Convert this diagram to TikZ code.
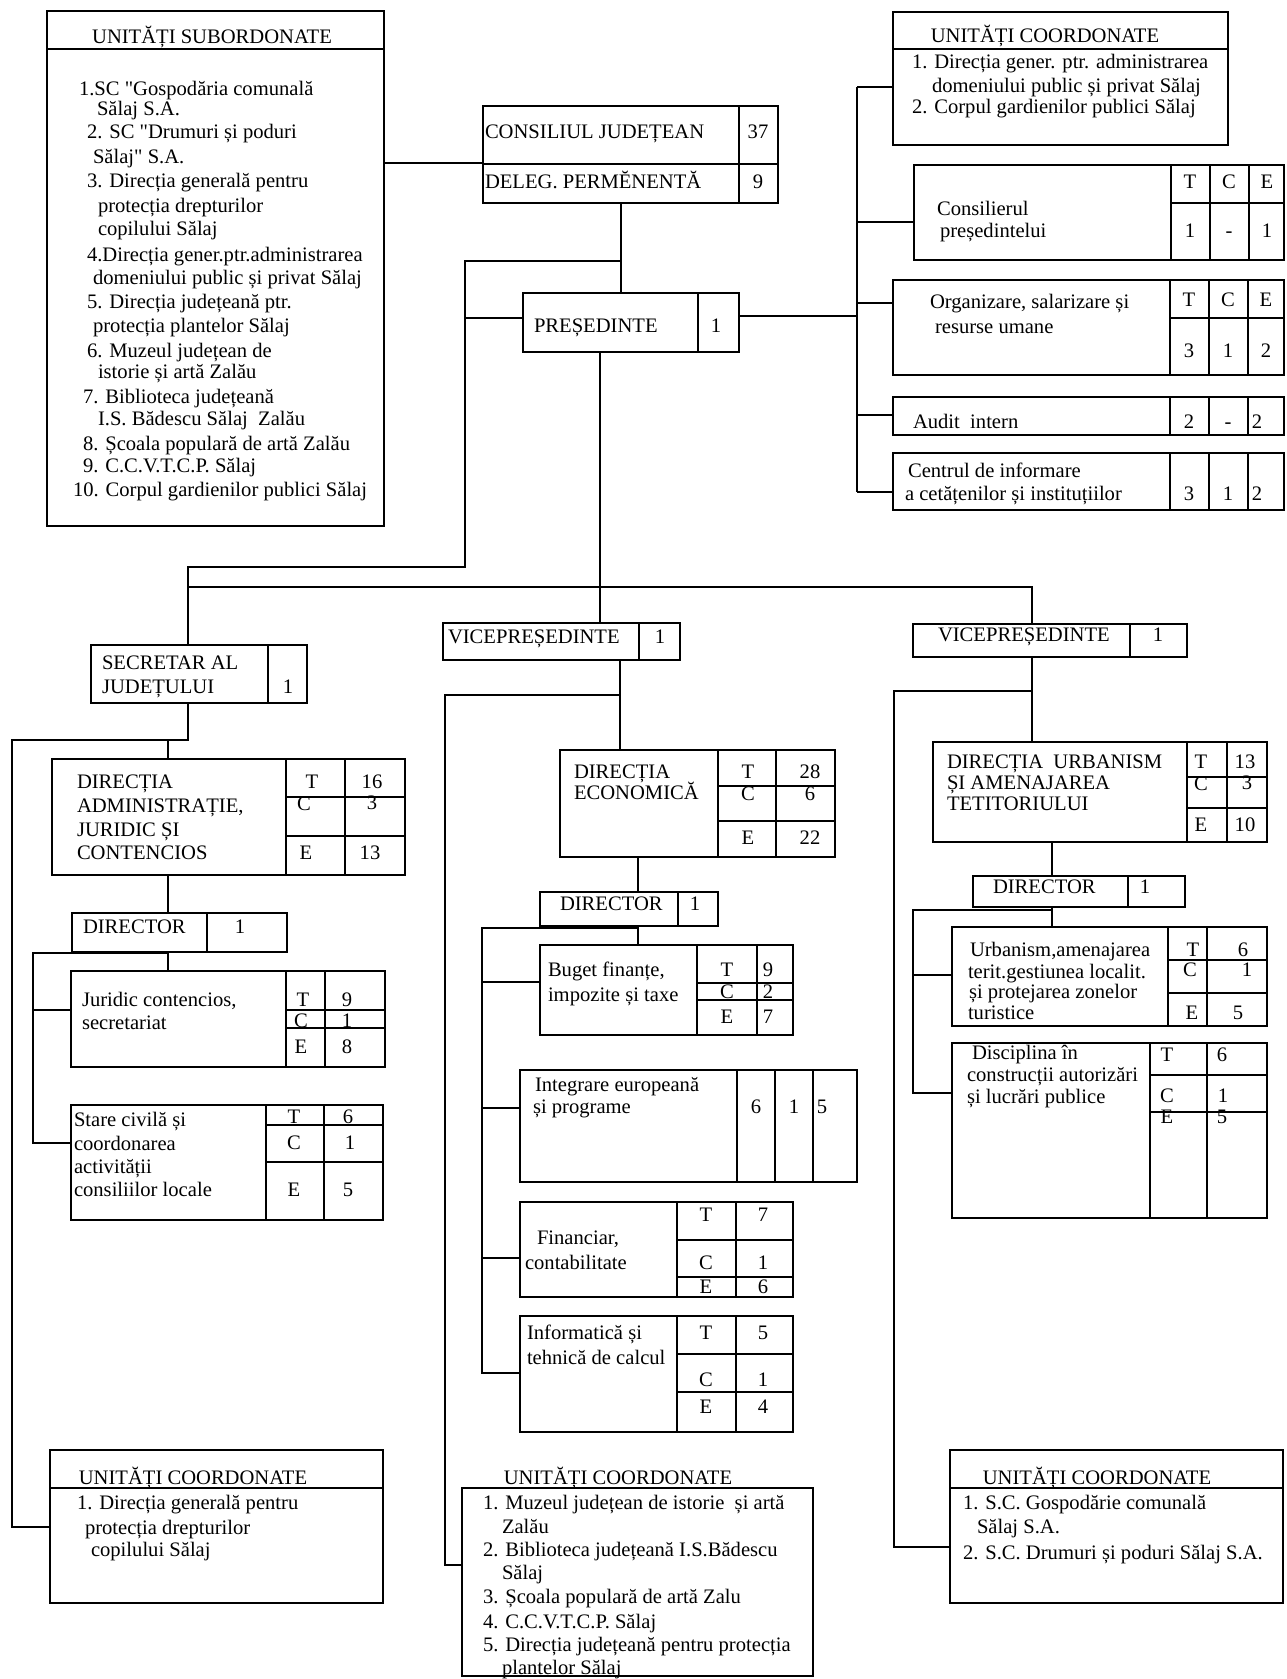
\documentclass[tikz,border=0pt]{standalone}
\usepackage{fontspec}
\setmainfont{Liberation Serif}[Ligatures=TeXOff]
\usetikzlibrary{fit}
\newcounter{tn}
\tikzset{
  ln/.style={line width=1pt},
  box/.style={draw, line width=1pt, inner sep=0pt, outer sep=0pt, rectangle},
  tx/.style={inner sep=0pt, outer sep=0pt, font=\fontsize{10.3}{12}\selectfont},
}
\newcommand{\bx}[5]{\path (#2,#3) coordinate (#1-nw) (#4,#5) coordinate (#1-se); \node[box, fit=(#1-nw)(#1-se)] (#1) {};}
\newcommand{\vdiv}[2]{\draw[ln] (#1.north -| #2,0) -- (#1.south -| #2,0);}
\newcommand{\hdiv}[3]{\draw[ln] (#2,#3) -- (#1.east |- #2,#3);}
\newcommand{\tl}[3]{\stepcounter{tn}\node[tx, anchor=base west] (t\arabic{tn}) at (#1,{#2+6}) {#3};}
\newcommand{\tc}[3]{\stepcounter{tn}\node[tx, anchor=base] (t\arabic{tn}) at (#1,{#2+6}) {#3};}
\begin{document}
\begin{tikzpicture}[x=0.5pt,y=-0.5pt]
\useasboundingbox (0,0) rectangle (1286,1679);
\fill[white] (0,0) rectangle (1286,1679);
% ---------- boxes ----------
\bx{sub}{47}{11}{384}{526} \hdiv{sub}{47}{49}
\bx{cj}{483}{106}{778}{203} \hdiv{cj}{483}{164} \vdiv{cj}{739}
\bx{pres}{523}{293}{739}{352} \vdiv{pres}{698}
\bx{ucr}{893}{12}{1228}{145} \hdiv{ucr}{893}{49}
\bx{cons}{914}{165}{1284}{260} \vdiv{cons}{1171}\vdiv{cons}{1210}\vdiv{cons}{1249}\hdiv{cons}{1171}{203}
\bx{org}{893}{280}{1284}{375} \vdiv{org}{1170}\vdiv{org}{1209}\vdiv{org}{1248}\hdiv{org}{1170}{318}
\bx{aud}{893}{397}{1284}{435} \vdiv{aud}{1170}\vdiv{aud}{1209}\vdiv{aud}{1248}
\bx{cen}{893}{453}{1284}{510} \vdiv{cen}{1170}\vdiv{cen}{1209}\vdiv{cen}{1248}
\bx{sec}{91}{645}{307}{703} \vdiv{sec}{268}
\bx{vpa}{443}{623}{680}{660} \vdiv{vpa}{639}
\bx{vpb}{913}{624}{1187}{657} \vdiv{vpb}{1130}
\bx{dadm}{52}{759}{405}{875} \vdiv{dadm}{286}\vdiv{dadm}{345}\hdiv{dadm}{286}{797}\hdiv{dadm}{286}{836}
\bx{dira}{72}{913}{287}{952} \vdiv{dira}{207}
\bx{jur}{71}{971}{385}{1067} \vdiv{jur}{286}\vdiv{jur}{325}\hdiv{jur}{286}{1010}\hdiv{jur}{286}{1028}
\bx{stc}{71}{1105}{383}{1220} \vdiv{stc}{266}\vdiv{stc}{324}\hdiv{stc}{266}{1125}\hdiv{stc}{266}{1162}
\bx{ucl}{50}{1450}{383}{1603} \hdiv{ucl}{50}{1488}
\bx{decon}{560}{750}{835}{857} \vdiv{decon}{718}\vdiv{decon}{776}\hdiv{decon}{718}{786}\hdiv{decon}{718}{821}
\bx{dirb}{540}{892}{718}{926} \vdiv{dirb}{678}
\bx{bug}{540}{945}{793}{1035} \vdiv{bug}{697}\vdiv{bug}{757}\hdiv{bug}{697}{983}\hdiv{bug}{697}{1000}
\bx{intg}{520}{1070}{857}{1182} \vdiv{intg}{737}\vdiv{intg}{775}\vdiv{intg}{813}
\bx{fin}{520}{1202}{793}{1297} \vdiv{fin}{677}\vdiv{fin}{736}\hdiv{fin}{677}{1240}\hdiv{fin}{677}{1277}
\bx{info}{520}{1316}{793}{1432} \vdiv{info}{677}\vdiv{info}{736}\hdiv{info}{677}{1354}\hdiv{info}{677}{1392}
\bx{ucm}{462}{1488}{813}{1676}
\bx{durb}{933}{742}{1267}{842} \vdiv{durb}{1187}\vdiv{durb}{1227}\hdiv{durb}{1187}{777}\hdiv{durb}{1187}{808}
\bx{dirc}{973}{876}{1185}{907} \vdiv{dirc}{1128}
\bx{urb}{952}{927}{1267}{1026} \vdiv{urb}{1168}\vdiv{urb}{1207}\hdiv{urb}{1168}{960}\hdiv{urb}{1168}{993}
\bx{dis}{952}{1043}{1267}{1218} \vdiv{dis}{1150}\vdiv{dis}{1207}\hdiv{dis}{1150}{1075}\hdiv{dis}{1150}{1112}
\bx{ucrb}{950}{1450}{1283}{1603} \hdiv{ucrb}{950}{1488}
% ---------- connectors ----------
\coordinate (k1) at (0,163);
\draw[ln] (sub.east |- k1) -- (cj.west |- k1);
\coordinate (k2) at (621,0);
\draw[ln] (cj.south -| k2) -- (pres.north -| k2);
\coordinate (k3) at (621,261);
\coordinate (k4) at (465,261);
\coordinate (k5) at (465,567);
\coordinate (k6) at (188,567);
\draw[ln] (k3) -- (k4) -- (k5) -- (k6) -- (sec.north -| k6);
\draw[ln] (k4 |- 0,318) -- (pres.west |- 0,318);
\coordinate (r0) at (857,316);
\coordinate (rt) at (857,87);
\coordinate (rb) at (857,492);
\draw[ln] (pres.east |- r0) -- (r0);
\draw[ln] (rt) -- (rb);
\draw[ln] (rt) -- (ucr.west |- rt);
\draw[ln] (rt |- 0,222) -- (cons.west |- 0,222);
\draw[ln] (rt |- 0,303) -- (org.west |- 0,303);
\draw[ln] (rt |- 0,415) -- (aud.west |- 0,415);
\draw[ln] (rb) -- (cen.west |- rb);
% bus
\coordinate (b0) at (600,587);
\coordinate (b2) at (1032,587);
\draw[ln] (pres.south -| b0) -- (b0);
\draw[ln] (k6 |- b0) -- (b2) -- (vpb.north -| b2);
\draw[ln] (b0) -- (vpa.north -| b0);
% left chain
\coordinate (l0) at (188,740);
\coordinate (l1) at (12,740);
\coordinate (l2) at (12,1527);
\coordinate (l3) at (168,740);
\draw[ln] (sec.south -| l0) -- (l0) -- (l1) -- (l2) -- (ucl.west |- l2);
\draw[ln] (l3) -- (dadm.north -| l3);
\draw[ln] (dadm.south -| l3) -- (dira.north -| l3);
\draw[ln] (dira.south -| l3) -- (jur.north -| l3);
\coordinate (l4) at (33,953);
\coordinate (l5) at (33,1143);
\draw[ln] (l3 |- l4) -- (l4) -- (l5) -- (stc.west |- l5);
\draw[ln] (l4 |- 0,1010) -- (jur.west |- 0,1010);
% middle chain
\coordinate (m0) at (620,695);
\coordinate (m1) at (445,695);
\coordinate (m2) at (445,1565);
\draw[ln] (vpa.south -| m0) -- (decon.north -| m0);
\draw[ln] (m0) -- (m1) -- (m2) -- (ucm.west |- m2);
\coordinate (m3) at (638,928);
\coordinate (m4) at (482,928);
\coordinate (m5) at (482,1373);
\draw[ln] (decon.south -| m3) -- (dirb.north -| m3);
\draw[ln] (dirb.south -| m3) -- (bug.north -| m3);
\draw[ln] (m3) -- (m4) -- (m5) -- (info.west |- m5);
\draw[ln] (m4 |- 0,982) -- (bug.west |- 0,982);
\draw[ln] (m4 |- 0,1108) -- (intg.west |- 0,1108);
\draw[ln] (m4 |- 0,1258) -- (fin.west |- 0,1258);
% right chain
\coordinate (q0) at (1032,691);
\coordinate (q1) at (894,691);
\coordinate (q2) at (894,1547);
\draw[ln] (vpb.south -| q0) -- (durb.north -| q0);
\draw[ln] (q0) -- (q1) -- (q2) -- (ucrb.west |- q2);
\coordinate (q3) at (1052,910);
\coordinate (q4) at (913,910);
\coordinate (q5) at (913,1093);
\draw[ln] (durb.south -| q3) -- (dirc.north -| q3);
\draw[ln] (dirc.south -| q3) -- (urb.north -| q3);
\draw[ln] (q3) -- (q4) -- (q5) -- (dis.west |- q5);
\draw[ln] (q4 |- 0,975) -- (urb.west |- 0,975);
% ---------- texts ----------
% subordinate units
\tc{212}{38}{UNITĂȚI SUBORDONATE}
\tl{79}{90}{1.SC "Gospodăria comunală}
\tl{97}{110}{Sălaj S.A.}
\tl{87}{133}{2. SC "Drumuri și poduri}
\tl{93}{158}{Sălaj" S.A.}
\tl{87}{182}{3. Direcția generală pentru}
\tl{98}{207}{protecția drepturilor}
\tl{98}{230}{copilului Sălaj}
\tl{87}{256}{4.Direcția gener.ptr.administrarea}
\tl{93}{279}{domeniului public și privat Sălaj}
\tl{87}{303}{5. Direcția județeană ptr.}
\tl{93}{327}{protecția plantelor Sălaj}
\tl{87}{352}{6. Muzeul județean de}
\tl{98}{373}{istorie și artă Zalău}
\tl{83}{398}{7. Biblioteca județeană}
\tl{98}{420}{I.S. Bădescu Sălaj\ \ Zalău}
\tl{83}{445}{8. Școala populară de artă Zalău}
\tl{83}{467}{9. C.C.V.T.C.P. Sălaj}
\tl{73}{490}{10. Corpul gardienilor publici Sălaj}
% council
\tl{485}{133}{CONSILIUL JUDEȚEAN}
\tc{758}{133}{37}
\tl{485}{183}{DELEG. PERMĔNENTĂ}
\tc{758}{183}{9}
\tl{534}{327}{PREȘEDINTE}
\tc{716}{327}{1}
% coordinated units top right
\tc{1045}{37}{UNITĂȚI COORDONATE}
\tl{912}{63}{1. Direcția gener. ptr. administrarea}
\tl{932}{87}{domeniului public și privat Sălaj}
\tl{912}{108}{2. Corpul gardienilor publici Sălaj}
% consilierul
\tl{937}{210}{Consilierul}
\tl{940}{232}{președintelui}
\tc{1190}{183}{T}\tc{1229}{183}{C}\tc{1267}{183}{E}
\tc{1190}{232}{1}\tc{1229}{232}{-}\tc{1267}{232}{1}
% organizare
\tl{930}{303}{Organizare, salarizare și}
\tl{935}{328}{resurse umane}
\tc{1189}{301}{T}\tc{1228}{301}{C}\tc{1266}{301}{E}
\tc{1189}{352}{3}\tc{1228}{352}{1}\tc{1266}{352}{2}
% audit
\tl{913}{423}{Audit\ \ intern}
\tc{1189}{423}{2}\tc{1228}{423}{-}\tc{1257}{423}{2}
% centrul
\tl{908}{472}{Centrul de informare}
\tl{905}{495}{a cetățenilor și instituțiilor}
\tc{1189}{495}{3}\tc{1228}{495}{1}\tc{1257}{495}{2}
% secretar
\tl{102}{663}{SECRETAR AL}
\tl{102}{687}{JUDEȚULUI}
\tc{288}{687}{1}
% vicepresedinti
\tl{448}{637}{VICEPREȘEDINTE}
\tc{660}{637}{1}
\tl{938}{635}{VICEPREȘEDINTE}
\tc{1158}{635}{1}
% directia administratie
\tl{77}{782}{DIRECȚIA}
\tl{77}{806}{ADMINISTRAȚIE,}
\tl{77}{830}{JURIDIC ȘI}
\tl{77}{853}{CONTENCIOS}
\tc{312}{782}{T}\tc{372}{782}{16}
\tc{304}{804}{C}\tc{372}{803}{3}
\tc{306}{853}{E}\tc{370}{853}{13}
\tl{83}{927}{DIRECTOR}
\tc{240}{927}{1}
% juridic
\tl{82}{1000}{Juridic contencios,}
\tl{82}{1023}{secretariat}
\tc{303}{1000}{T}\tc{347}{1000}{9}
\tc{301}{1021}{C}\tc{347}{1021}{1}
\tc{301}{1047}{E}\tc{347}{1047}{8}
% stare civila
\tl{74}{1120}{Stare civilă și}
\tl{74}{1144}{coordonarea}
\tl{74}{1167}{activității}
\tl{74}{1190}{consiliilor locale}
\tc{294}{1117}{T}\tc{348}{1117}{6}
\tc{294}{1143}{C}\tc{350}{1143}{1}
\tc{294}{1190}{E}\tc{348}{1190}{5}
% unitati coordonate bottom left
\tc{193}{1478}{UNITĂȚI COORDONATE}
\tl{77}{1503}{1. Direcția generală pentru}
\tl{85}{1528}{protecția drepturilor}
\tl{91}{1550}{copilului Sălaj}
% directia economica
\tl{574}{772}{DIRECȚIA}
\tl{574}{793}{ECONOMICĂ}
\tc{748}{772}{T}\tc{810}{772}{28}
\tc{748}{794}{C}\tc{810}{794}{6}
\tc{748}{838}{E}\tc{810}{838}{22}
\tl{560}{904}{DIRECTOR}
\tc{695}{904}{1}
% buget
\tl{548}{970}{Buget finanțe,}
\tl{548}{995}{impozite și taxe}
\tc{727}{970}{T}\tc{768}{970}{9}
\tc{727}{992}{C}\tc{768}{992}{2}
\tc{727}{1017}{E}\tc{768}{1017}{7}
% integrare
\tl{535}{1085}{Integrare europeană}
\tl{533}{1107}{și programe}
\tc{756}{1107}{6}\tc{794}{1107}{1}\tc{822}{1107}{5}
% financiar
\tl{537}{1238}{Financiar,}
\tl{525}{1263}{contabilitate}
\tc{706}{1215}{T}\tc{763}{1215}{7}
\tc{706}{1263}{C}\tc{763}{1263}{1}
\tc{706}{1287}{E}\tc{763}{1287}{6}
% informatica
\tl{527}{1333}{Informatică și}
\tl{527}{1358}{tehnică de calcul}
\tc{706}{1333}{T}\tc{763}{1333}{5}
\tc{706}{1380}{C}\tc{763}{1380}{1}
\tc{706}{1407}{E}\tc{763}{1407}{4}
% unitati coordonate bottom middle
\tc{618}{1478}{UNITĂȚI COORDONATE}
\tl{483}{1503}{1. Muzeul județean de istorie\ \ și artă}
\tl{502}{1527}{Zalău}
\tl{483}{1550}{2. Biblioteca județeană I.S.Bădescu}
\tl{502}{1573}{Sălaj}
\tl{483}{1597}{3. Școala populară de artă Zalu}
\tl{483}{1622}{4. C.C.V.T.C.P. Sălaj}
\tl{483}{1645}{5. Direcția județeană pentru protecția}
\tl{502}{1668}{plantelor Sălaj}
% directia urbanism
\tl{947}{762}{DIRECȚIA\ \ URBANISM}
\tl{947}{783}{ȘI AMENAJAREA}
\tl{947}{804}{TETITORIULUI}
\tc{1201}{762}{T}\tc{1245}{762}{13}
\tc{1201}{784}{C}\tc{1247}{783}{3}
\tc{1201}{825}{E}\tc{1245}{825}{10}
\tl{993}{887}{DIRECTOR}
\tc{1145}{887}{1}
% urbanism
\tl{970}{950}{Urbanism,amenajarea}
\tl{968}{972}{terit.gestiunea localit.}
\tl{969}{992}{și protejarea zonelor}
\tl{968}{1013}{turistice}
\tc{1193}{950}{T}\tc{1243}{950}{6}
\tc{1190}{970}{C}\tc{1247}{970}{1}
\tc{1192}{1013}{E}\tc{1238}{1013}{5}
% disciplina
\tl{972}{1053}{Disciplina în}
\tl{967}{1075}{construcții autorizări}
\tl{967}{1097}{și lucrări publice}
\tc{1167}{1055}{T}\tc{1222}{1055}{6}
\tc{1167}{1096}{C}\tc{1223}{1096}{1}
\tc{1167}{1117}{E}\tc{1222}{1117}{5}
% unitati coordonate bottom right
\tc{1097}{1478}{UNITĂȚI COORDONATE}
\tl{963}{1503}{1. S.C. Gospodărie comunală}
\tl{977}{1527}{Sălaj S.A.}
\tl{963}{1553}{2. S.C. Drumuri și poduri Sălaj S.A.}
\end{tikzpicture}
\end{document}
